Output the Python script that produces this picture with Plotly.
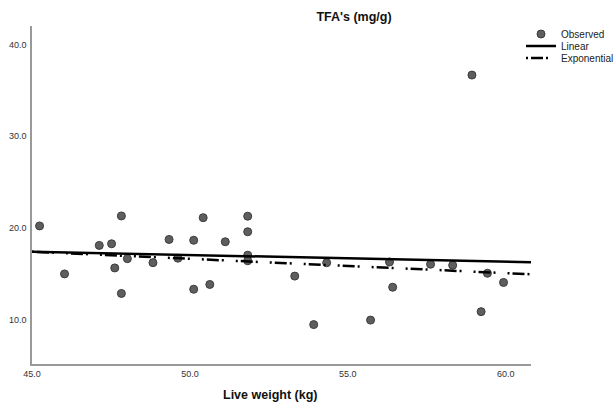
import plotly.graph_objects as go

# Observed data (Live weight kg, TFA's mg/g)
live_weight = [45.24, 46.03, 47.13, 47.52, 47.62, 47.83, 47.83, 48.02, 48.83, 49.34,
               49.62, 50.12, 50.12, 50.42, 50.63, 51.12, 51.83, 51.83, 51.83, 51.83,
               53.32, 53.92, 54.33, 55.72, 56.32, 56.42, 57.62, 58.32, 58.93, 59.22,
               59.42, 59.93]
tfa = [20.23, 15.01, 18.11, 18.29, 15.66, 21.32, 12.88, 16.67, 16.23, 18.76,
       16.72, 18.67, 13.34, 21.13, 13.86, 18.51, 21.29, 19.60, 17.05, 16.44,
       14.77, 9.49, 16.22, 9.98, 16.31, 13.56, 16.06, 15.95, 36.66, 10.90,
       15.08, 14.08]

# Fitted curves
fit_x = [45.0, 60.8]
linear_y = [17.43, 16.28]
exp_x = [45.0, 52.9, 60.8]
exp_y = [17.43, 16.18, 14.97]

x_ticks = [45, 50, 55, 60]
y_ticks = [10, 20, 30, 40]

FONT = "Liberation Sans, Arial, sans-serif"

fig = go.Figure()
fig.add_trace(go.Scatter(
    x=live_weight, y=tfa, mode="markers", name="Observed", legend="legend",
    marker=dict(size=8, color="#5e5e5e", line=dict(color="#3c3c3c", width=1)),
))
fig.add_trace(go.Scatter(
    x=fit_x, y=linear_y, mode="lines", name="Linear", legend="legend2",
    line=dict(color="black", width=2.5),
))
fig.add_trace(go.Scatter(
    x=exp_x, y=exp_y, mode="lines", name="Exponential", legend="legend3",
    line=dict(color="black", width=2.5, dash="2px,3px,12px,3px,2px,12px"),
))

leg_common = dict(xref="container", yref="container", x=521 / 616, xanchor="left",
                  yanchor="middle", bgcolor="rgba(0,0,0,0)",
                  font=dict(size=10, color="#222222", family=FONT),
                  itemwidth=30, borderwidth=0)

fig.update_layout(
    width=616, height=405,
    margin=dict(l=32, r=85, t=26, b=41, autoexpand=False),
    plot_bgcolor="white", paper_bgcolor="white",
    font=dict(family=FONT, size=9, color="#333333"),
    title=dict(text="<b>TFA's (mg/g)</b>", x=354 / 616, xanchor="center",
               xref="container", y=1 - 17 / 405, yanchor="middle", yref="container",
               font=dict(size=12.5, color="#111111", family=FONT)),
    showlegend=True,
    legend=dict(**leg_common, y=1 - 34 / 405),
    legend2=dict(**leg_common, y=1 - 46 / 405),
    legend3=dict(**leg_common, y=1 - 58 / 405),
    annotations=[dict(text="<b>Live weight (kg)</b>", x=0.477, y=-0.092,
                      xref="paper", yref="paper", xanchor="center", yanchor="middle",
                      showarrow=False, font=dict(size=12.5, color="#111111", family=FONT))],
)
fig.update_xaxes(range=[45, 60.8], tickvals=x_ticks, tickformat=".1f",
                 showgrid=False, zeroline=False, showline=True, automargin=False,
                 linecolor="#999999", linewidth=1.5, ticks="", ticklabelstandoff=0)
fig.update_yaxes(range=[5.2, 42], tickvals=y_ticks, tickformat=".1f",
                 showgrid=False, zeroline=False, showline=True, automargin=False,
                 linecolor="#999999", linewidth=1.5, ticks="", ticklabelstandoff=2)

fig.write_html("out.html")
